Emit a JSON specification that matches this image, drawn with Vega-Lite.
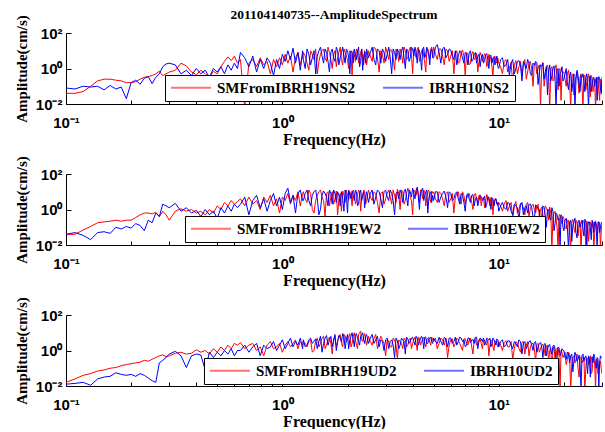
{
"$schema":"https://vega.github.io/schema/vega-lite/v6.json",
"autosize":{"type":"pad"},
"padding":{"left":14,"top":8,"right":0,"bottom":0},
"background":"white",
"spacing":70,
"bounds":"flush",
"resolve":{"scale":{"color":"independent"},"legend":{"color":"independent"}},
"data":{"values":[
{"f":0.1,"r1":0.04,"b1":0.08,"r2":0.04,"b2":0.04,"r3":0.016,"b3":0.0126},
{"f":0.11,"r1":0.04,"b1":0.07,"r2":0.04,"b2":0.05,"r3":0.025,"b3":0.014},
{"f":0.12,"r1":0.05,"b1":0.1,"r2":0.07,"b2":0.035,"r3":0.04,"b3":0.016},
{"f":0.13,"r1":0.1,"b1":0.09,"r2":0.11,"b2":0.02,"r3":0.05,"b3":0.011},
{"f":0.14,"r1":0.2,"b1":0.1,"r2":0.18,"b2":0.05,"r3":0.07,"b3":0.025},
{"f":0.15,"r1":0.25,"b1":0.063,"r2":0.2,"b2":0.056,"r3":0.08,"b3":0.032},
{"f":0.16,"r1":0.25,"b1":0.11,"r2":0.22,"b2":0.045,"r3":0.1,"b3":0.035},
{"f":0.17,"r1":0.22,"b1":0.07,"r2":0.25,"b2":0.1,"r3":0.11,"b3":0.056},
{"f":0.18,"r1":0.2,"b1":0.09,"r2":0.22,"b2":0.08,"r3":0.14,"b3":0.045},
{"f":0.19,"r1":0.16,"b1":0.02,"r2":0.25,"b2":0.11,"r3":0.16,"b3":0.04},
{"f":0.2,"r1":0.16,"b1":0.16,"r2":0.25,"b2":0.09,"r3":0.18,"b3":0.045},
{"f":0.21,"r1":0.18,"b1":0.22,"r2":0.35,"b2":0.16,"r3":0.2,"b3":0.035},
{"f":0.22,"r1":0.25,"b1":0.13,"r2":0.5,"b2":0.126,"r3":0.22,"b3":0.05},
{"f":0.23,"r1":0.32,"b1":0.28,"r2":0.63,"b2":0.063,"r3":0.28,"b3":0.04},
{"f":0.24,"r1":0.35,"b1":0.35,"r2":0.63,"b2":0.25,"r3":0.25,"b3":0.028},
{"f":0.25,"r1":0.4,"b1":0.14,"r2":0.56,"b2":0.18,"r3":0.32,"b3":0.02},
{"f":0.26,"r1":0.5,"b1":0.32,"r2":0.7,"b2":0.63,"r3":0.4,"b3":0.016},
{"f":0.27,"r1":0.7,"b1":0.5,"r2":0.4,"b2":0.4,"r3":0.5,"b3":0.2},
{"f":0.28,"r1":0.4,"b1":1.26,"r2":0.8,"b2":2,"r3":0.56,"b3":0.28},
{"f":0.29,"r1":0.5,"b1":1.8,"r2":0.5,"b2":1.6,"r3":0.45,"b3":0.4},
{"f":0.3,"r1":0.63,"b1":2,"r2":0.25,"b2":1.26,"r3":0.5,"b3":0.63},
{"f":0.32,"r1":0.8,"b1":1.6,"r2":0.8,"b2":2.2,"r3":0.7,"b3":0.9},
{"f":0.34,"r1":2,"b1":0.5,"r2":1.1,"b2":0.8,"r3":0.8,"b3":0.5},
{"f":0.36,"r1":1.4,"b1":0.8,"r2":0.8,"b2":1.26,"r3":0.63,"b3":0.11},
{"f":0.38,"r1":0.63,"b1":0.4,"r2":1,"b2":0.63,"r3":0.7,"b3":0.5},
{"f":0.4,"r1":0.45,"b1":1,"r2":0.63,"b2":0.9,"r3":1.1,"b3":0.63},
{"f":0.42,"r1":0.8,"b1":0.5,"r2":0.8,"b2":0.4,"r3":0.8,"b3":0.56},
{"f":0.44,"r1":0.5,"b1":0.8,"r2":0.5,"b2":1,"r3":1,"b3":0.08},
{"f":0.46,"r1":0.32,"b1":0.32,"r2":1,"b2":0.5,"r3":0.63,"b3":0.8},
{"f":0.48,"r1":0.7,"b1":1,"r2":0.63,"b2":0.8,"r3":1.26,"b3":0.4},
{"f":0.5,"r1":0.5,"b1":0.63,"r2":1.6,"b2":0.32,"r3":0.8,"b3":0.8},
{"f":0.52,"r1":1.26,"b1":1.26,"r2":1,"b2":1.26,"r3":1.6,"b3":0.5},
{"f":0.54,"r1":2.5,"b1":0.5,"r2":2.5,"b2":0.63,"r3":1,"b3":1},
{"f":0.56,"r1":4.5,"b1":1.6,"r2":1.6,"b2":1.6,"r3":2,"b3":0.63},
{"f":0.58,"r1":2.8,"b1":0.8,"r2":3.2,"b2":0.8,"r3":1.26,"b3":1.26},
{"f":0.6,"r1":5,"b1":2,"r2":2,"b2":2,"r3":2.5,"b3":0.5},
{"f":0.62,"r1":2,"b1":1,"r2":2.8,"b2":1.26,"r3":2,"b3":1},
{"f":0.64,"r1":3.2,"b1":8,"r2":4,"b2":2,"r3":2.8,"b3":1},
{"f":0.67,"r1":0.006,"b1":4,"r2":1.6,"b2":5,"r3":1.26,"b3":2},
{"f":0.7,"r1":2,"b1":1.26,"r2":5,"b2":0.5,"r3":2,"b3":0.8},
{"f":0.73,"r1":3.2,"b1":5,"r2":2,"b2":3.2,"r3":2.5,"b3":1.6},
{"f":0.76,"r1":1.26,"b1":0.63,"r2":3.2,"b2":6.3,"r3":1,"b3":2.5},
{"f":0.79,"r1":4,"b1":3.2,"r2":1,"b2":1.26,"r3":1.6,"b3":0.5},
{"f":0.82,"r1":1.6,"b1":1,"r2":5,"b2":4,"r3":0.5,"b3":2},
{"f":0.85,"r1":2.5,"b1":4,"r2":2.5,"b2":0.8,"r3":2,"b3":1.26},
{"f":0.88,"r1":0.5,"b1":2,"r2":6.3,"b2":3.2,"r3":3.2,"b3":1.6},
{"f":0.91,"r1":3.2,"b1":0.4,"r2":1.6,"b2":8,"r3":1.26,"b3":3.2},
{"f":0.94,"r1":1.26,"b1":3.2,"r2":4,"b2":1.6,"r3":1.6,"b3":1},
{"f":0.97,"r1":4,"b1":1,"r2":0.63,"b2":5,"r3":2.5,"b3":2},
{"f":1,"r1":1.6,"b1":6.3,"r2":5,"b2":1,"r3":0.8,"b3":4},
{"f":1.03,"r1":6.3,"b1":2.5,"r2":3.2,"b2":8,"r3":2,"b3":1.26},
{"f":1.06,"r1":2,"b1":10,"r2":8,"b2":16,"r3":3.2,"b3":2.5},
{"f":1.09,"r1":5,"b1":3.2,"r2":2,"b2":2.5,"r3":1.6,"b3":5},
{"f":1.12,"r1":0.63,"b1":14,"r2":6.3,"b2":6.3,"r3":2.5,"b3":1.6},
{"f":1.15,"r1":4,"b1":2,"r2":3.2,"b2":0.63,"r3":4,"b3":3.2},
{"f":1.18,"r1":8,"b1":8,"r2":10,"b2":8,"r3":1.26,"b3":2},
{"f":1.21,"r1":1.6,"b1":0.8,"r2":1.6,"b2":12.6,"r3":3.2,"b3":5},
{"f":1.24,"r1":5,"b1":10,"r2":8,"b2":3.2,"r3":2,"b3":1.26},
{"f":1.25,"r1":8,"b1":3.2,"r2":10,"b2":3.2,"r3":3.2,"b3":4},
{"f":1.3,"r1":2,"b1":12.6,"r2":2.5,"b2":12.6,"r3":1.6,"b3":2},
{"f":1.35,"r1":10,"b1":1.6,"r2":8,"b2":1.6,"r3":4,"b3":5},
{"f":1.4,"r1":3.2,"b1":10,"r2":0.63,"b2":10,"r3":1,"b3":3.2},
{"f":1.45,"r1":0.5,"b1":5,"r2":6.3,"b2":4,"r3":5,"b3":1.26},
{"f":1.5,"r1":6.3,"b1":16,"r2":12.6,"b2":1,"r3":2.5,"b3":6.3},
{"f":1.55,"r1":12.6,"b1":2,"r2":3.2,"b2":11,"r3":6.3,"b3":2.5},
{"f":1.6,"r1":2.5,"b1":8,"r2":8,"b2":5,"r3":2,"b3":7},
{"f":1.65,"r1":8,"b1":0.63,"r2":1.6,"b2":12.6,"r3":5.6,"b3":4},
{"f":1.7,"r1":1,"b1":12.6,"r2":10,"b2":2,"r3":0.63,"b3":1.6},
{"f":1.75,"r1":10,"b1":2.5,"r2":4,"b2":8,"r3":6.3,"b3":8},
{"f":1.8,"r1":4,"b1":10,"r2":0.5,"b2":10,"r3":3.2,"b3":3.2},
{"f":1.85,"r1":16,"b1":4,"r2":8,"b2":1.6,"r3":8,"b3":5},
{"f":1.9,"r1":1.6,"b1":16,"r2":11,"b2":4,"r3":1.6,"b3":9},
{"f":1.95,"r1":8,"b1":2,"r2":2.5,"b2":12.6,"r3":7,"b3":1.26},
{"f":2,"r1":3.2,"b1":10,"r2":6.3,"b2":0.63,"r3":4,"b3":8},
{"f":2.05,"r1":10,"b1":0.5,"r2":10,"b2":8,"r3":9,"b3":4},
{"f":2.1,"r1":0.4,"b1":8,"r2":1.6,"b2":11,"r3":2.5,"b3":10},
{"f":2.15,"r1":6.3,"b1":12.6,"r2":8,"b2":3.2,"r3":10,"b3":1.6},
{"f":2.2,"r1":12.6,"b1":3.2,"r2":3.2,"b2":10,"r3":2,"b3":9},
{"f":2.25,"r1":2,"b1":16,"r2":12.6,"b2":2,"r3":8,"b3":3.2},
{"f":2.3,"r1":8,"b1":2.5,"r2":0.8,"b2":12.6,"r3":12.6,"b3":6.3},
{"f":2.35,"r1":4,"b1":0.8,"r2":6.3,"b2":6.3,"r3":3.2,"b3":10},
{"f":2.4,"r1":10,"b1":8,"r2":10,"b2":1.26,"r3":9,"b3":2.5},
{"f":2.45,"r1":1.6,"b1":12.6,"r2":3.2,"b2":10,"r3":2,"b3":8},
{"f":2.5,"r1":10,"b1":4,"r2":12.6,"b2":2.5,"r3":6.3,"b3":2.5},
{"f":2.6,"r1":2.5,"b1":16,"r2":3.2,"b2":12.6,"r3":2,"b3":8},
{"f":2.7,"r1":12.6,"b1":1.6,"r2":8,"b2":5,"r3":8,"b3":4},
{"f":2.8,"r1":0.63,"b1":10,"r2":0.63,"b2":10,"r3":3.2,"b3":1.6},
{"f":2.9,"r1":6.3,"b1":12.6,"r2":10,"b2":1.26,"r3":4,"b3":3.2},
{"f":3,"r1":16,"b1":2.5,"r2":4,"b2":12.6,"r3":0.5,"b3":4},
{"f":3.1,"r1":3.2,"b1":16,"r2":12.6,"b2":3.2,"r3":3.5,"b3":1.26},
{"f":3.2,"r1":10,"b1":0.5,"r2":2,"b2":8,"r3":1.6,"b3":4},
{"f":3.3,"r1":0.8,"b1":8,"r2":6.3,"b2":0.5,"r3":4,"b3":0.4},
{"f":3.4,"r1":8,"b1":12.6,"r2":14,"b2":10,"r3":0.32,"b3":3.5},
{"f":3.5,"r1":12.6,"b1":3.2,"r2":1,"b2":12.6,"r3":3.2,"b3":2},
{"f":3.6,"r1":2,"b1":16,"r2":10,"b2":2.5,"r3":1.26,"b3":4},
{"f":3.7,"r1":10,"b1":1,"r2":3.2,"b2":14,"r3":4,"b3":0.63},
{"f":3.8,"r1":4,"b1":10,"r2":16,"b2":1.6,"r3":2,"b3":4.5},
{"f":3.9,"r1":16,"b1":4,"r2":5,"b2":10,"r3":5,"b3":3.2},
{"f":4,"r1":0.5,"b1":12.6,"r2":0.5,"b2":16,"r3":2.5,"b3":5.6},
{"f":4.1,"r1":8,"b1":16,"r2":10,"b2":4,"r3":5.6,"b3":2},
{"f":4.2,"r1":12.6,"b1":2,"r2":16,"b2":18,"r3":1,"b3":5},
{"f":4.3,"r1":2.5,"b1":10,"r2":2.5,"b2":1,"r3":5,"b3":3.2},
{"f":4.4,"r1":10,"b1":0.8,"r2":8,"b2":12.6,"r3":3.2,"b3":6.3},
{"f":4.5,"r1":5,"b1":16,"r2":12.6,"b2":3.2,"r3":5.6,"b3":1.26},
{"f":4.6,"r1":0.63,"b1":6.3,"r2":1.6,"b2":10,"r3":1.6,"b3":5.6},
{"f":4.7,"r1":12.6,"b1":10,"r2":10,"b2":0.63,"r3":5,"b3":2.5},
{"f":4.8,"r1":3.2,"b1":1.6,"r2":4,"b2":8,"r3":2.8,"b3":5},
{"f":4.9,"r1":16,"b1":12.6,"r2":11,"b2":2.5,"r3":5.6,"b3":3.2},
{"f":5,"r1":16,"b1":4,"r2":10,"b2":3.2,"r3":3.2,"b3":5},
{"f":5.2,"r1":3.2,"b1":22,"r2":2.5,"b2":10,"r3":1.26,"b3":2.5},
{"f":5.4,"r1":12.6,"b1":2,"r2":8,"b2":5,"r3":5,"b3":3.2},
{"f":5.6,"r1":1.6,"b1":16,"r2":1.6,"b2":11,"r3":2,"b3":5.6},
{"f":5.8,"r1":10,"b1":6.3,"r2":10,"b2":1.26,"r3":0.4,"b3":1.6},
{"f":6,"r1":5,"b1":11,"r2":4,"b2":8,"r3":4,"b3":5},
{"f":6.2,"r1":0.5,"b1":3.2,"r2":0.63,"b2":4,"r3":1.6,"b3":3.2},
{"f":6.4,"r1":10,"b1":1.6,"r2":8,"b2":10,"r3":5,"b3":2},
{"f":6.6,"r1":2.5,"b1":10,"r2":3.2,"b2":2,"r3":2.5,"b3":5.6},
{"f":6.8,"r1":11,"b1":4,"r2":10,"b2":6.3,"r3":1,"b3":3.2},
{"f":7,"r1":0.4,"b1":8,"r2":2,"b2":0.8,"r3":4.5,"b3":1.6},
{"f":7.2,"r1":6.3,"b1":1.6,"r2":7,"b2":8,"r3":2,"b3":5},
{"f":7.4,"r1":2,"b1":10,"r2":4,"b2":2.5,"r3":5,"b3":2.8},
{"f":7.6,"r1":9,"b1":3.2,"r2":1,"b2":7,"r3":0.63,"b3":4},
{"f":7.8,"r1":4,"b1":8,"r2":8,"b2":4,"r3":4,"b3":5.6},
{"f":8,"r1":0.63,"b1":5,"r2":2.5,"b2":1.6,"r3":2.5,"b3":1.26},
{"f":8.2,"r1":8,"b1":1.26,"r2":6.3,"b2":6.3,"r3":4.5,"b3":5},
{"f":8.4,"r1":2.5,"b1":6.3,"r2":4,"b2":3.2,"r3":1.26,"b3":3.2},
{"f":8.6,"r1":7,"b1":3.2,"r2":1.26,"b2":5.6,"r3":4,"b3":2},
{"f":8.8,"r1":1.26,"b1":7,"r2":7,"b2":2,"r3":2,"b3":5},
{"f":9,"r1":6.3,"b1":1,"r2":3.2,"b2":5,"r3":0.5,"b3":4},
{"f":9.2,"r1":3.2,"b1":5.6,"r2":5,"b2":1,"r3":4,"b3":1.6},
{"f":9.4,"r1":0.32,"b1":4,"r2":0.5,"b2":4,"r3":1.6,"b3":5},
{"f":9.6,"r1":5,"b1":1.6,"r2":4,"b2":3.2,"r3":3.5,"b3":3.2},
{"f":9.8,"r1":2,"b1":5,"r2":2.5,"b2":2,"r3":2.5,"b3":4.5},
{"f":10,"r1":2,"b1":1,"r2":2.5,"b2":0.8,"r3":3.2,"b3":1.6},
{"f":10.4,"r1":0.5,"b1":4,"r2":0.8,"b2":2.5,"r3":1,"b3":4},
{"f":10.8,"r1":3.2,"b1":1.6,"r2":3.2,"b2":1,"r3":3.5,"b3":2},
{"f":11.2,"r1":1,"b1":0.4,"r2":1.6,"b2":2.2,"r3":1.6,"b3":3.5},
{"f":11.6,"r1":0.16,"b1":3.2,"r2":0.32,"b2":0.5,"r3":0.32,"b3":1.26},
{"f":12,"r1":2.8,"b1":1,"r2":2.8,"b2":1.6,"r3":3.2,"b3":2.5},
{"f":12.4,"r1":1.26,"b1":2.8,"r2":1,"b2":0.25,"r3":1.26,"b3":4},
{"f":12.8,"r1":0.4,"b1":0.2,"r2":2,"b2":2.5,"r3":2.8,"b3":0.63},
{"f":13.2,"r1":3.2,"b1":1.6,"r2":0.5,"b2":1.26,"r3":0.63,"b3":3.2},
{"f":13.6,"r1":0.63,"b1":3.2,"r2":2.5,"b2":0.63,"r3":3.2,"b3":2},
{"f":14,"r1":2.5,"b1":0.5,"r2":1.26,"b2":2,"r3":1.6,"b3":3.5},
{"f":14.4,"r1":0.1,"b1":2,"r2":2,"b2":0.4,"r3":2.5,"b3":1},
{"f":14.8,"r1":2,"b1":2.5,"r2":0.63,"b2":1.8,"r3":0.25,"b3":3.2},
{"f":15.2,"r1":1,"b1":0.126,"r2":2,"b2":1,"r3":2.5,"b3":1.6},
{"f":15.6,"r1":0.006,"b1":1.6,"r2":1,"b2":0.16,"r3":1.26,"b3":2.8},
{"f":16,"r1":2.2,"b1":2,"r2":0.25,"b2":1.6,"r3":2.2,"b3":0.4},
{"f":16.4,"r1":0.32,"b1":0.63,"r2":1.6,"b2":0.5,"r3":0.5,"b3":2.5},
{"f":16.8,"r1":1.6,"b1":0.032,"r2":0.8,"b2":1,"r3":2,"b3":1.26},
{"f":17.2,"r1":0.005,"b1":1.6,"r2":1.4,"b2":0.32,"r3":1,"b3":2.2},
{"f":17.6,"r1":1.26,"b1":0.4,"r2":0.005,"b2":1.26,"r3":0.063,"b3":0.63},
{"f":18,"r1":0.25,"b1":1.4,"r2":0.63,"b2":0.063,"r3":1.6,"b3":2},
{"f":18.4,"r1":1.6,"b1":0.006,"r2":0.32,"b2":0.63,"r3":0.4,"b3":0.16},
{"f":18.8,"r1":0.063,"b1":1,"r2":0.006,"b2":0.25,"r3":1.26,"b3":1.6},
{"f":19.2,"r1":1,"b1":0.5,"r2":0.5,"b2":0.006,"r3":0.006,"b3":0.5},
{"f":19.6,"r1":0.4,"b1":1.26,"r2":0.16,"b2":0.4,"r3":0.8,"b3":1.26},
{"f":20,"r1":0.63,"b1":0.25,"r2":0.32,"b2":0.063,"r3":0.5,"b3":1},
{"f":20.5,"r1":0.1,"b1":1,"r2":0.08,"b2":0.32,"r3":0.16,"b3":0.32},
{"f":21,"r1":0.8,"b1":0.063,"r2":0.25,"b2":0.006,"r3":0.8,"b3":0.63},
{"f":21.5,"r1":0.005,"b1":0.63,"r2":0.006,"b2":0.25,"r3":0.006,"b3":0.5},
{"f":22,"r1":0.5,"b1":0.16,"r2":0.28,"b2":0.126,"r3":0.4,"b3":0.063},
{"f":22.5,"r1":0.126,"b1":0.006,"r2":0.05,"b2":0.32,"r3":0.2,"b3":0.8},
{"f":23,"r1":0.63,"b1":0.8,"r2":0.2,"b2":0.025,"r3":0.63,"b3":0.25},
{"f":23.5,"r1":0.04,"b1":0.126,"r2":0.126,"b2":0.25,"r3":0.032,"b3":0.56},
{"f":24,"r1":0.5,"b1":0.4,"r2":0.005,"b2":0.16,"r3":0.45,"b3":0.006},
{"f":24.5,"r1":0.006,"b1":0.5,"r2":0.25,"b2":0.08,"r3":0.25,"b3":0.63},
{"f":25,"r1":0.4,"b1":0.05,"r2":0.063,"b2":0.28,"r3":0.005,"b3":0.4},
{"f":25.5,"r1":0.16,"b1":0.5,"r2":0.22,"b2":0.006,"r3":0.4,"b3":0.2},
{"f":26,"r1":0.5,"b1":0.006,"r2":0.016,"b2":0.2,"r3":0.16,"b3":0.5},
{"f":26.5,"r1":0.025,"b1":0.4,"r2":0.2,"b2":0.1,"r3":0.5,"b3":0.032},
{"f":27,"r1":0.32,"b1":0.126,"r2":0.1,"b2":0.25,"r3":0.063,"b3":0.45},
{"f":27.5,"r1":0.1,"b1":0.32,"r2":0.006,"b2":0.05,"r3":0.32,"b3":0.63},
{"f":28,"r1":0.005,"b1":0.2,"r2":0.2,"b2":0.22,"r3":0.006,"b3":0.16},
{"f":28.5,"r1":0.32,"b1":0.016,"r2":0.04,"b2":0.006,"r3":0.32,"b3":0.4},
{"f":29,"r1":0.063,"b1":0.35,"r2":0.18,"b2":0.2,"r3":0.126,"b3":0.006},
{"f":29.5,"r1":0.25,"b1":0.08,"r2":0.006,"b2":0.1,"r3":0.25,"b3":0.5},
{"f":30,"r1":0.032,"b1":0.32,"r2":0.16,"b2":0.2,"r3":0.05,"b3":0.35},
{"f":1.275,"r1":5,"b1":1,"r2":4,"b2":8,"r3":2.5,"b3":1.6},
{"f":1.325,"r1":0.8,"b1":6.3,"r2":12.6,"b2":3.2,"r3":3.2,"b3":4},
{"f":1.375,"r1":6.3,"b1":4,"r2":1,"b2":6.3,"r3":0.8,"b3":2.5},
{"f":1.425,"r1":12.6,"b1":0.5,"r2":3.2,"b2":12.6,"r3":3.2,"b3":4.5},
{"f":1.475,"r1":2.5,"b1":10,"r2":10,"b2":0.5,"r3":1.6,"b3":3.2},
{"f":1.525,"r1":10,"b1":5,"r2":5,"b2":6.3,"r3":5,"b3":0.8},
{"f":1.575,"r1":4,"b1":12.6,"r2":0.4,"b2":8,"r3":1.26,"b3":5},
{"f":1.625,"r1":16,"b1":2.5,"r2":10,"b2":1.6,"r3":4,"b3":2},
{"f":1.675,"r1":3.2,"b1":8,"r2":5,"b2":8,"r3":2.5,"b3":6.3},
{"f":1.725,"r1":6.3,"b1":4,"r2":2,"b2":12.6,"r3":4.5,"b3":3.2},
{"f":1.775,"r1":1.26,"b1":16,"r2":11,"b2":2.5,"r3":1.6,"b3":1},
{"f":1.825,"r1":8,"b1":1.6,"r2":4,"b2":6.3,"r3":6.3,"b3":7},
{"f":1.875,"r1":3.2,"b1":8,"r2":0.8,"b2":10,"r3":2.5,"b3":3.2},
{"f":1.925,"r1":12.6,"b1":5,"r2":6.3,"b2":0.8,"r3":8,"b3":6.3},
{"f":1.975,"r1":5,"b1":12.6,"r2":12.6,"b2":6.3,"r3":3.2,"b3":4},
{"f":2.025,"r1":1,"b1":4,"r2":3.2,"b2":12.6,"r3":6.3,"b3":1.26},
{"f":2.075,"r1":6.3,"b1":10,"r2":6.3,"b2":4,"r3":1.6,"b3":6.3},
{"f":2.125,"r1":10,"b1":2,"r2":12.6,"b2":6.3,"r3":6.3,"b3":4},
{"f":2.175,"r1":2.5,"b1":6.3,"r2":2,"b2":12.6,"r3":4,"b3":8},
{"f":2.225,"r1":8,"b1":10,"r2":6.3,"b2":1.6,"r3":1.26,"b3":5},
{"f":2.275,"r1":4,"b1":1.26,"r2":10,"b2":8,"r3":10,"b3":2},
{"f":2.325,"r1":12.6,"b1":12.6,"r2":4,"b2":3.2,"r3":4,"b3":8},
{"f":2.375,"r1":1.6,"b1":5,"r2":12.6,"b2":10,"r3":6.3,"b3":4},
{"f":2.425,"r1":6.3,"b1":2,"r2":2,"b2":5,"r3":4,"b3":6.3},
{"f":2.55,"r1":5,"b1":8,"r2":5,"b2":8,"r3":3.2,"b3":5},
{"f":2.65,"r1":16,"b1":3.2,"r2":10,"b2":2,"r3":5,"b3":2.5},
{"f":2.75,"r1":4,"b1":12.6,"r2":2.5,"b2":12.6,"r3":1.26,"b3":6.3},
{"f":2.85,"r1":10,"b1":2,"r2":8,"b2":4,"r3":6.3,"b3":4},
{"f":2.95,"r1":2,"b1":8,"r2":2,"b2":10,"r3":2.5,"b3":1},
{"f":3.05,"r1":8,"b1":6.3,"r2":8,"b2":5,"r3":4,"b3":5},
{"f":3.15,"r1":12.6,"b1":4,"r2":5,"b2":12.6,"r3":1.6,"b3":3.2},
{"f":3.25,"r1":4,"b1":12.6,"r2":12.6,"b2":3.2,"r3":5,"b3":2},
{"f":3.35,"r1":12.6,"b1":3.2,"r2":2.5,"b2":8,"r3":2,"b3":5},
{"f":3.45,"r1":2.5,"b1":8,"r2":8,"b2":4,"r3":4,"b3":1.26},
{"f":3.55,"r1":6.3,"b1":10,"r2":12.6,"b2":8,"r3":2.5,"b3":5},
{"f":3.65,"r1":16,"b1":4,"r2":2,"b2":10,"r3":5,"b3":3.2},
{"f":3.75,"r1":3.2,"b1":12.6,"r2":8,"b2":5,"r3":1.6,"b3":5.6},
{"f":3.85,"r1":10,"b1":2.5,"r2":12.6,"b2":12.6,"r3":4,"b3":2.5},
{"f":3.95,"r1":6.3,"b1":16,"r2":3.2,"b2":5,"r3":1.26,"b3":5},
{"f":4.05,"r1":12.6,"b1":5,"r2":12.6,"b2":8,"r3":4,"b3":3.2},
{"f":4.15,"r1":4,"b1":8,"r2":6.3,"b2":12.6,"r3":2.5,"b3":6.3},
{"f":4.25,"r1":16,"b1":12.6,"r2":8,"b2":5,"r3":5.6,"b3":2},
{"f":4.35,"r1":5,"b1":4,"r2":12.6,"b2":8,"r3":2,"b3":5},
{"f":4.45,"r1":12.6,"b1":12.6,"r2":4,"b2":16,"r3":4.5,"b3":4},
{"f":4.55,"r1":2,"b1":4,"r2":10,"b2":6.3,"r3":2.5,"b3":5.6},
{"f":4.65,"r1":10,"b1":16,"r2":5,"b2":12.6,"r3":4,"b3":2.5},
{"f":4.75,"r1":8,"b1":5,"r2":12.6,"b2":4,"r3":5.6,"b3":4.5},
{"f":4.85,"r1":12.6,"b1":10,"r2":2.5,"b2":10,"r3":2,"b3":5.6},
{"f":4.95,"r1":5,"b1":4,"r2":8,"b2":6.3,"r3":4,"b3":2.5},
{"f":5.1,"r1":6.3,"b1":16,"r2":4,"b2":10,"r3":5,"b3":3.2},
{"f":5.3,"r1":12.6,"b1":8,"r2":10,"b2":2.5,"r3":2.5,"b3":5.6},
{"f":5.5,"r1":5,"b1":12.6,"r2":4,"b2":8,"r3":4,"b3":2},
{"f":5.7,"r1":12.6,"b1":4,"r2":8,"b2":5,"r3":5,"b3":4.5},
{"f":5.9,"r1":2.5,"b1":12.6,"r2":2.5,"b2":10,"r3":2,"b3":5},
{"f":6.1,"r1":10,"b1":5,"r2":8,"b2":3.2,"r3":4.5,"b3":2.5},
{"f":6.3,"r1":6.3,"b1":10,"r2":5,"b2":8,"r3":2.5,"b3":5.6},
{"f":6.5,"r1":2,"b1":5,"r2":10,"b2":4,"r3":4,"b3":3.2},
{"f":6.7,"r1":8,"b1":8,"r2":2,"b2":8,"r3":1.6,"b3":5},
{"f":6.9,"r1":5,"b1":2,"r2":6.3,"b2":2.5,"r3":4.5,"b3":4},
{"f":7.1,"r1":8,"b1":6.3,"r2":4,"b2":6.3,"r3":2.5,"b3":2},
{"f":7.3,"r1":1.6,"b1":8,"r2":8,"b2":4,"r3":4,"b3":5},
{"f":7.5,"r1":6.3,"b1":2.5,"r2":2.5,"b2":6.3,"r3":1.6,"b3":4},
{"f":7.7,"r1":3.2,"b1":6.3,"r2":6.3,"b2":1.6,"r3":4.5,"b3":2.5},
{"f":7.9,"r1":7,"b1":2,"r2":4,"b2":5,"r3":2,"b3":5.6},
{"f":8.1,"r1":2.5,"b1":6.3,"r2":6.3,"b2":3.2,"r3":4,"b3":3.2},
{"f":8.3,"r1":5.6,"b1":4,"r2":1.6,"b2":5,"r3":2.5,"b3":4.5},
{"f":8.5,"r1":4,"b1":2,"r2":5,"b2":4,"r3":4,"b3":5},
{"f":8.7,"r1":5,"b1":5.6,"r2":3.2,"b2":1.26,"r3":2.5,"b3":2.5},
{"f":8.9,"r1":2,"b1":3.2,"r2":5,"b2":5,"r3":4,"b3":4.5},
{"f":9.1,"r1":4.5,"b1":5,"r2":1.6,"b2":2.5,"r3":2,"b3":5},
{"f":9.3,"r1":1.26,"b1":2,"r2":4,"b2":4.5,"r3":3.5,"b3":2.5},
{"f":9.5,"r1":4,"b1":4.5,"r2":2.5,"b2":1.6,"r3":1,"b3":4},
{"f":9.7,"r1":2.5,"b1":2.5,"r2":4,"b2":4,"r3":3.2,"b3":2},
{"f":9.9,"r1":4,"b1":1.26,"r2":1.6,"b2":2.5,"r3":1.6,"b3":4},
{"f":10.2,"r1":1.26,"b1":3.2,"r2":1.6,"b2":1.6,"r3":2,"b3":3.2},
{"f":10.6,"r1":2.5,"b1":1.26,"r2":2,"b2":1.26,"r3":2.8,"b3":1.6},
{"f":11,"r1":0.63,"b1":3.2,"r2":0.8,"b2":2.5,"r3":1.6,"b3":3.5},
{"f":11.4,"r1":2.2,"b1":2,"r2":2.5,"b2":0.8,"r3":3.2,"b3":2},
{"f":11.8,"r1":1.6,"b1":0.5,"r2":1.6,"b2":2,"r3":1.26,"b3":3.2},
{"f":12.2,"r1":0.5,"b1":2.5,"r2":0.63,"b2":1.26,"r3":2.5,"b3":1.6},
{"f":12.6,"r1":2.5,"b1":1.6,"r2":2.2,"b2":2,"r3":0.8,"b3":3.2},
{"f":13,"r1":1.6,"b1":2.5,"r2":1.26,"b2":0.5,"r3":3.2,"b3":2.5},
{"f":13.4,"r1":0.25,"b1":1,"r2":2,"b2":1.6,"r3":2,"b3":1.26},
{"f":13.8,"r1":2,"b1":2,"r2":0.4,"b2":2,"r3":0.5,"b3":3.2},
{"f":14.2,"r1":1,"b1":0.4,"r2":1.6,"b2":1.26,"r3":2.5,"b3":2},
{"f":14.6,"r1":1.8,"b1":1.6,"r2":1,"b2":0.25,"r3":1.26,"b3":2.8},
{"f":15,"r1":0.5,"b1":2,"r2":1.6,"b2":1.6,"r3":2.2,"b3":0.8},
{"f":15.4,"r1":1.6,"b1":0.63,"r2":0.4,"b2":1,"r3":0.8,"b3":2.5},
{"f":15.8,"r1":1.26,"b1":1.4,"r2":1.4,"b2":0.4,"r3":2,"b3":1.6},
{"f":16.2,"r1":0.1,"b1":0.25,"r2":0.5,"b2":1.26,"r3":1.26,"b3":2.2},
{"f":16.6,"r1":1.26,"b1":1.26,"r2":1.26,"b2":0.1,"r3":1.8,"b3":0.5},
{"f":17,"r1":0.5,"b1":0.8,"r2":0.25,"b2":1,"r3":0.25,"b3":2},
{"f":17.4,"r1":1,"b1":0.2,"r2":0.6,"b2":0.25,"r3":1.4,"b3":1},
{"f":17.8,"r1":0.2,"b1":1,"r2":0.4,"b2":0.8,"r3":1,"b3":1.8},
{"f":18.2,"r1":1,"b1":0.3,"r2":0.8,"b2":0.16,"r3":0.32,"b3":1.26},
{"f":18.6,"r1":0.4,"b1":0.8,"r2":0.1,"b2":0.5,"r3":1.4,"b3":0.4},
{"f":19,"r1":0.8,"b1":0.1,"r2":0.5,"b2":0.32,"r3":0.5,"b3":1.4},
{"f":19.4,"r1":0.016,"b1":0.63,"r2":0.25,"b2":0.5,"r3":1,"b3":0.8},
{"f":19.8,"r1":0.63,"b1":0.2,"r2":0.4,"b2":0.1,"r3":0.4,"b3":1},
{"f":20.25,"r1":0.25,"b1":0.5,"r2":0.1,"b2":0.25,"r3":0.8,"b3":0.4},
{"f":20.75,"r1":0.5,"b1":0.16,"r2":0.25,"b2":0.1,"r3":0.32,"b3":0.8},
{"f":21.25,"r1":0.2,"b1":0.4,"r2":0.05,"b2":0.2,"r3":0.63,"b3":0.2},
{"f":21.75,"r1":0.4,"b1":0.05,"r2":0.2,"b2":0.016,"r3":0.16,"b3":0.63},
{"f":22.25,"r1":0.032,"b1":0.5,"r2":0.1,"b2":0.2,"r3":0.5,"b3":0.25},
{"f":22.75,"r1":0.4,"b1":0.25,"r2":0.25,"b2":0.05,"r3":0.32,"b3":0.5},
{"f":23.25,"r1":0.2,"b1":0.4,"r2":0.032,"b2":0.2,"r3":0.1,"b3":0.32},
{"f":23.75,"r1":0.32,"b1":0.05,"r2":0.2,"b2":0.1,"r3":0.4,"b3":0.16},
{"f":24.25,"r1":0.1,"b1":0.32,"r2":0.1,"b2":0.25,"r3":0.2,"b3":0.5},
{"f":24.75,"r1":0.4,"b1":0.2,"r2":0.2,"b2":0.032,"r3":0.4,"b3":0.25},
{"f":25.25,"r1":0.063,"b1":0.32,"r2":0.01,"b2":0.2,"r3":0.1,"b3":0.5},
{"f":25.75,"r1":0.32,"b1":0.1,"r2":0.2,"b2":0.1,"r3":0.32,"b3":0.05},
{"f":26.25,"r1":0.16,"b1":0.32,"r2":0.063,"b2":0.2,"r3":0.25,"b3":0.32},
{"f":26.75,"r1":0.4,"b1":0.05,"r2":0.16,"b2":0.02,"r3":0.05,"b3":0.4},
{"f":27.25,"r1":0.05,"b1":0.25,"r2":0.2,"b2":0.16,"r3":0.4,"b3":0.2},
{"f":27.75,"r1":0.25,"b1":0.1,"r2":0.05,"b2":0.2,"r3":0.2,"b3":0.4},
{"f":28.25,"r1":0.1,"b1":0.32,"r2":0.16,"b2":0.063,"r3":0.32,"b3":0.1},
{"f":28.75,"r1":0.2,"b1":0.2,"r2":0.1,"b2":0.2,"r3":0.05,"b3":0.32},
{"f":29.25,"r1":0.016,"b1":0.25,"r2":0.2,"b2":0.05,"r3":0.25,"b3":0.2},
{"f":29.75,"r1":0.2,"b1":0.04,"r2":0.063,"b2":0.16,"r3":0.1,"b3":0.4}
]},
"config":{
"view":{"stroke":null},
"axis":{"grid":false,"domainColor":"#000000","domainWidth":1,"tickColor":"#000000","tickWidth":1,"labelColor":"#000000","titleColor":"#000000","labelFont":"Liberation Sans","labelFontWeight":"bold","labelFontSize":15,"titleFont":"Liberation Serif","titleFontWeight":"bold","labelFlush":false,"labelOverlap":false,"labelBound":false},
"legend":{"orient":"none","direction":"horizontal","fillColor":"white","strokeColor":"black","padding":5,"clipHeight":15,"symbolType":"stroke","symbolSize":1600,"symbolStrokeWidth":2,"symbolOpacity":0.55,"labelFont":"Liberation Serif","labelFontSize":15,"labelFontWeight":"bold","labelColor":"black","labelOffset":5,"columnPadding":26,"labelLimit":300},
"title":{"font":"Liberation Serif","fontSize":13.5,"fontWeight":"bold","color":"black","anchor":"middle","offset":-7}
},
"vconcat":[
{"width":536,"height":71,"title":"201104140735--AmplitudeSpectrum",
"layer":[
{"mark":{"type":"line","clip":true,"strokeWidth":1},
"encoding":{
"x":{"field":"f","type":"quantitative","scale":{"type":"log","domain":[0.1,30],"nice":false},"axis":{"title":"Frequency(Hz)","titleFontSize":16,"titlePadding":1,"values":[0.1,0.2,0.3,0.4,0.5,0.6,0.7,0.8,0.9,1,2,3,4,5,6,7,8,9,10,20,30],"labelExpr":"datum.value==0.1?'10⁻¹':datum.value==1?'10⁰':datum.value==10?'10¹':''","tickSize":-4,"labelPadding":15}},
"y":{"field":"r1","type":"quantitative","scale":{"type":"log","domain":[0.01,100],"nice":false},"axis":{"title":"Amplitude(cm/s)","titleFontSize":15,"titlePadding":6,"values":[0.01,1,100],"labelExpr":"datum.value==0.01?'10⁻²':datum.value==1?'10⁰':'10²'","tickSize":-5,"labelPadding":9}},
"color":{"datum":"SMFromIBRH19NS2","type":"nominal","scale":{"domain":["SMFromIBRH19NS2","IBRH10NS2"],"range":["#ff0000","#0000ff"]},"legend":{"title":null,"legendX":99,"legendY":42}}}},
{"mark":{"type":"line","clip":true,"strokeWidth":1},
"encoding":{
"x":{"field":"f","type":"quantitative"},
"y":{"field":"b1","type":"quantitative"},
"color":{"datum":"IBRH10NS2","type":"nominal"}}}
]},
{"width":536,"height":71,
"layer":[
{"mark":{"type":"line","clip":true,"strokeWidth":1},
"encoding":{
"x":{"field":"f","type":"quantitative","scale":{"type":"log","domain":[0.1,30],"nice":false},"axis":{"title":"Frequency(Hz)","titleFontSize":16,"titlePadding":1,"values":[0.1,0.2,0.3,0.4,0.5,0.6,0.7,0.8,0.9,1,2,3,4,5,6,7,8,9,10,20,30],"labelExpr":"datum.value==0.1?'10⁻¹':datum.value==1?'10⁰':datum.value==10?'10¹':''","tickSize":-4,"labelPadding":15}},
"y":{"field":"r2","type":"quantitative","scale":{"type":"log","domain":[0.01,100],"nice":false},"axis":{"title":"Amplitude(cm/s)","titleFontSize":15,"titlePadding":6,"values":[0.01,1,100],"labelExpr":"datum.value==0.01?'10⁻²':datum.value==1?'10⁰':'10²'","tickSize":-5,"labelPadding":9}},
"color":{"datum":"SMFromIBRH19EW2","type":"nominal","scale":{"domain":["SMFromIBRH19EW2","IBRH10EW2"],"range":["#ff0000","#0000ff"]},"legend":{"title":null,"legendX":119,"legendY":42}}}},
{"mark":{"type":"line","clip":true,"strokeWidth":1},
"encoding":{
"x":{"field":"f","type":"quantitative"},
"y":{"field":"b2","type":"quantitative"},
"color":{"datum":"IBRH10EW2","type":"nominal"}}}
]},
{"width":536,"height":71,
"layer":[
{"mark":{"type":"line","clip":true,"strokeWidth":1},
"encoding":{
"x":{"field":"f","type":"quantitative","scale":{"type":"log","domain":[0.1,30],"nice":false},"axis":{"title":"Frequency(Hz)","titleFontSize":16,"titlePadding":1,"values":[0.1,0.2,0.3,0.4,0.5,0.6,0.7,0.8,0.9,1,2,3,4,5,6,7,8,9,10,20,30],"labelExpr":"datum.value==0.1?'10⁻¹':datum.value==1?'10⁰':datum.value==10?'10¹':''","tickSize":-4,"labelPadding":15}},
"y":{"field":"r3","type":"quantitative","scale":{"type":"log","domain":[0.01,100],"nice":false},"axis":{"title":"Amplitude(cm/s)","titleFontSize":15,"titlePadding":6,"values":[0.01,1,100],"labelExpr":"datum.value==0.01?'10⁻²':datum.value==1?'10⁰':'10²'","tickSize":-5,"labelPadding":9}},
"color":{"datum":"SMFromIBRH19UD2","type":"nominal","scale":{"domain":["SMFromIBRH19UD2","IBRH10UD2"],"range":["#ff0000","#0000ff"]},"legend":{"title":null,"legendX":138,"legendY":43}}}},
{"mark":{"type":"line","clip":true,"strokeWidth":1},
"encoding":{
"x":{"field":"f","type":"quantitative"},
"y":{"field":"b3","type":"quantitative"},
"color":{"datum":"IBRH10UD2","type":"nominal"}}}
]}
]
}
